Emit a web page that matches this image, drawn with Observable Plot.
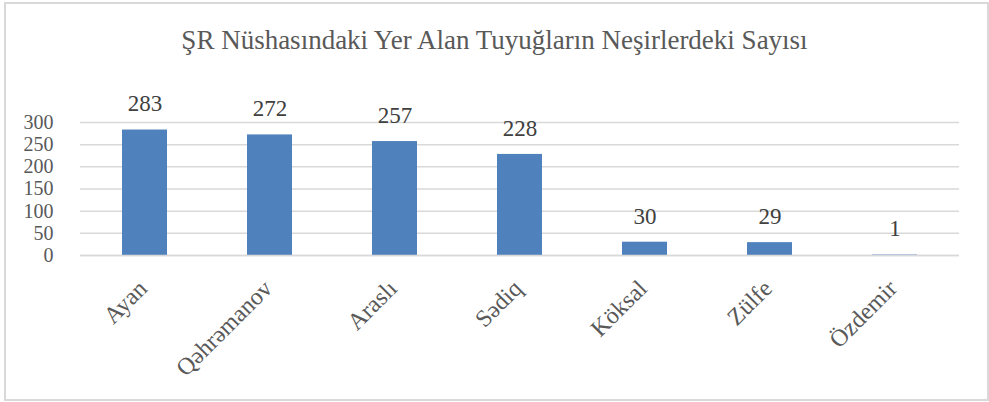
<!DOCTYPE html>
<html>
<head>
<meta charset="utf-8">
<script src="https://cdn.jsdelivr.net/npm/d3@7"></script>
<script src="https://cdn.jsdelivr.net/npm/@observablehq/plot@0.6"></script>
<style>
  html, body { margin: 0; padding: 0; background: #fff; }
  #wrap { position: relative; width: 989px; height: 402px; overflow: hidden; font-family: "Liberation Serif", "DejaVu Serif", serif; }
  #frame { position: absolute; left: 4px; top: 2px; border: 2px solid #d9d9d9; box-sizing: border-box; width: 985px; height: 399px; }
  #title { position: absolute; left: 0; top: 0; width: 989px; height: 90px; line-height: 80px; text-align: center; font-size: 27px; color: #595959; }
  #chart { position: absolute; left: 0; top: 90px; }
</style>
</head>
<body>
<div id="wrap">
  <div id="frame"></div>
  <div id="title">ŞR Nüshasındaki Yer Alan Tuyuğların Neşirlerdeki Sayısı</div>
  <div id="chart"></div>
</div>
<script>
const categories = ["Ayan", "Qəhrəmanov", "Araslı", "Sədiq", "Köksal", "Zülfe", "Özdemir"];
const values = [283, 272, 257, 228, 30, 29, 1];
const yTicks = [0, 50, 100, 150, 200, 250, 300];

const data = categories.map((c, i) => ({name: c, value: values[i]}));

const plot = Plot.plot({
  width: 989,
  height: 312,
  marginLeft: 80,
  marginRight: 30,
  marginTop: 32,
  marginBottom: 147,
  style: {fontFamily: "'Liberation Serif', 'DejaVu Serif', serif", fontSize: "20px", color: "#595959", background: "transparent"},
  x: {domain: categories, paddingInner: 0.64, paddingOuter: 0.32, label: null},
  y: {domain: [0, 300], label: null},
  marks: [
    Plot.gridY(yTicks, {stroke: "#d9d9d9", strokeOpacity: 1, strokeWidth: 1.5}),
    Plot.axisY(yTicks, {tickSize: 0, tickPadding: 27, fontSize: 20, fill: "#595959", label: null}),
    Plot.barY(data, {x: "name", y: "value", fill: "#4f81bd"}),
    Plot.ruleY([0], {stroke: "#d9d9d9", strokeWidth: 1.5}),
    Plot.text(data, {x: "name", y: "value", text: d => String(d.value), dy: -26, fontSize: 23, fill: "#404040"}),
    Plot.axisX({tickSize: 0, tickRotate: -45, tickPadding: 29, dx: -2, fontSize: 24, fill: "#595959", label: null})
  ]
});
document.getElementById("chart").appendChild(plot);
</script>
</body>
</html>
